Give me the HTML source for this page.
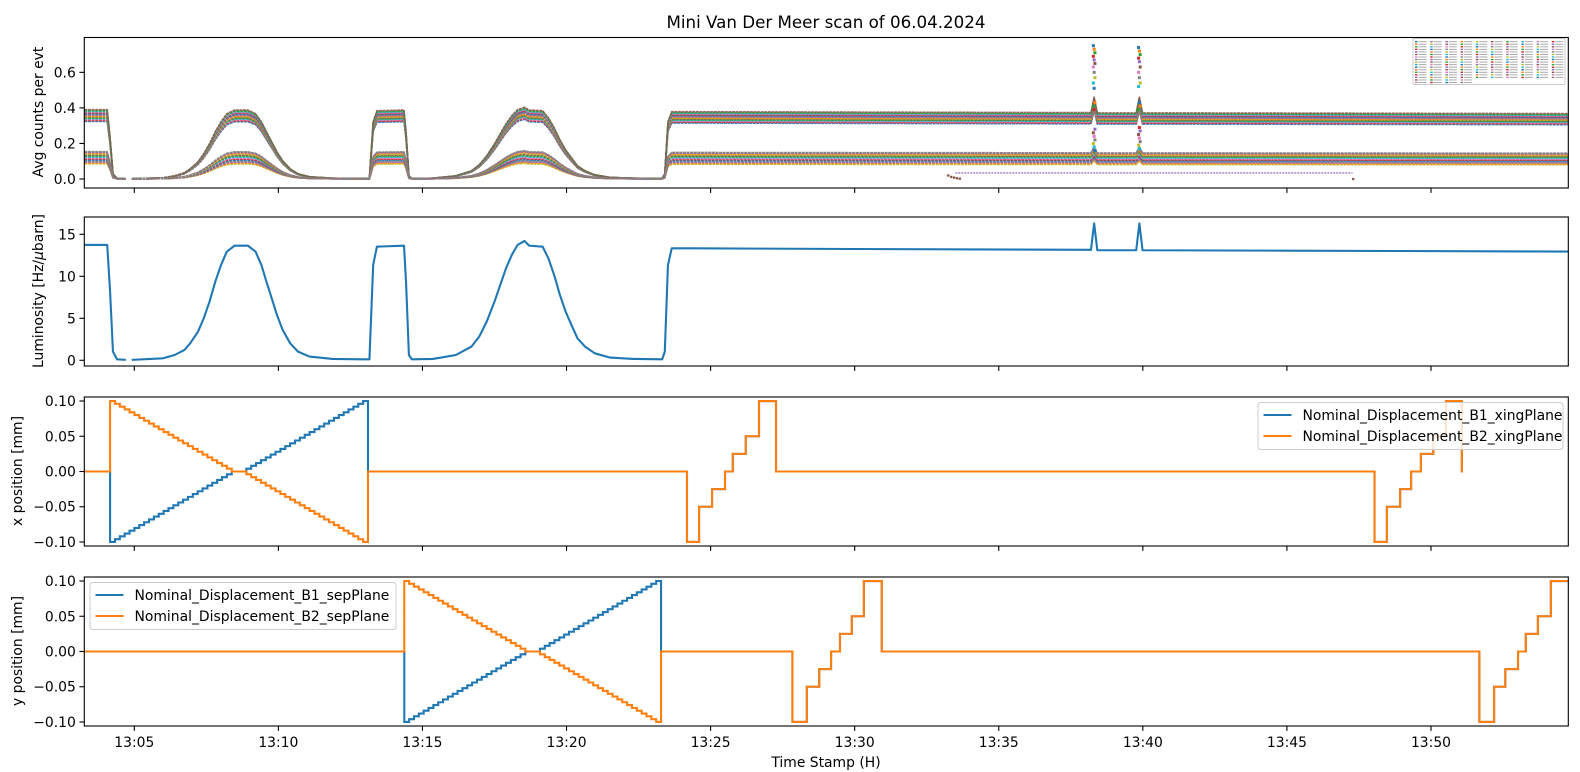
<!DOCTYPE html>
<html><head><meta charset="utf-8"><style>
html,body{margin:0;padding:0;background:#fff}
svg{display:block;font-family:"DejaVu Sans","Liberation Sans",sans-serif}
</style></head><body>
<svg id="fig" xmlns="http://www.w3.org/2000/svg" width="1580" height="772" viewBox="0 0 1580 772">
<rect width="1580" height="772" fill="#fff"/>
<text x="826" y="28" font-size="16.7" text-anchor="middle">Mini Van Der Meer scan of 06.04.2024</text>
<g id="layer"></g>
<text x="826" y="767" font-size="13.9" text-anchor="middle">Time Stamp (H)</text>
<text transform="translate(43,112) rotate(-90)" font-size="13.9" text-anchor="middle">Avg counts per evt</text>
<text transform="translate(43,291) rotate(-90)" font-size="13.9" text-anchor="middle">Luminosity [Hz/<tspan font-style="italic">μ</tspan>barn]</text>
<text transform="translate(22,471) rotate(-90)" font-size="13.9" text-anchor="middle">x position [mm]</text>
<text transform="translate(22,651) rotate(-90)" font-size="13.9" text-anchor="middle">y position [mm]</text>
</svg>
<script>
// ---- data ----
const xTickLabels = ["13:05","13:10","13:15","13:20","13:25","13:30","13:35","13:40","13:45","13:50"];
const xTickMinutes = [5,10,15,20,25,30,35,40,45,50];
const lumT = [3.27,4.06,4.16,4.26,4.40,4.71,4.80,4.91,6.00,6.40,6.74,6.94,7.21,7.41,7.61,7.81,8.01,8.21,8.48,8.94,9.21,9.41,9.55,9.75,9.95,10.15,10.41,10.68,11.08,11.88,12.89,13.16,13.29,13.42,14.36,14.43,14.53,14.63,15.36,16.16,16.70,16.97,17.23,17.50,17.70,17.90,18.10,18.30,18.54,18.70,19.17,19.37,19.57,19.77,19.97,20.17,20.38,20.64,20.98,21.51,22.31,23.32,23.41,23.52,23.65,24.29,30.0,38.2,38.31,38.42,39.77,39.88,39.99,45.0,54.76];
const lumV = [13.73,13.73,8.17,1.03,0.12,0.05,null,0.05,0.24,0.63,1.23,2.02,3.41,5.00,6.98,9.36,11.35,12.93,13.65,13.65,12.93,11.35,9.76,7.58,5.40,3.61,2.02,1.03,0.44,0.16,0.12,0.12,11.35,13.53,13.65,9.36,0.63,0.12,0.16,0.63,1.63,2.82,4.60,6.98,8.97,10.95,12.54,13.73,14.21,13.65,13.53,12.14,10.16,7.78,5.79,4.21,2.62,1.63,0.83,0.32,0.16,0.12,1.03,11.35,13.33,13.33,13.25,13.15,16.3,13.1,13.1,16.3,13.1,13.05,12.95];
const upperFactors = [0.0236,0.0240,0.0244,0.0247,0.0250,0.0253,0.0256,0.0259,0.0262,0.0265,0.0268,0.0271,0.0274,0.0277,0.0280,0.0284];
const lowerFactors = [0.0062,0.0066,0.0070,0.0074,0.0078,0.0082,0.0086,0.0090,0.0094,0.0098,0.0102,0.0106,0.0109,0.0112];
const purpleT = [33.49,47.28];
const purpleV = [0.034,0.034];
const dipT = [33.25,33.35,33.45,33.55,33.65,47.3];
const dipV = [0.02,0.012,0.008,0.004,0.002,0.0];
const spikeT = [38.31,39.88];
const spikeHigh = [[0.75,0.73,0.71,0.69,0.67,0.65,0.63,0.60,0.57,0.54,0.51],[0.74,0.72,0.70,0.68,0.66,0.63,0.60,0.57,0.54,0.52]];
const spikeMid = [[0.43,0.41,0.39,0.28,0.26,0.24,0.22,0.20,0.18,0.16],[0.43,0.41,0.39,0.29,0.27,0.25,0.23,0.21,0.19,0.17]];
// x-plane
const xBigStart = 4.16, xBigEnd = 13.11;
const bigB1X = [-0.100,-0.096,-0.092,-0.088,-0.084,-0.080,-0.076,-0.072,-0.068,-0.064,-0.060,-0.056,-0.052,-0.048,-0.044,-0.040,-0.036,-0.032,-0.028,-0.024,-0.020,-0.016,-0.012,-0.008,-0.004,0,0,0,0.004,0.008,0.012,0.016,0.020,0.024,0.028,0.032,0.036,0.040,0.044,0.048,0.052,0.056,0.060,0.064,0.068,0.072,0.076,0.080,0.084,0.088,0.092,0.096,0.100];
const bigB2X = [0.100,0.096,0.092,0.088,0.084,0.080,0.076,0.072,0.068,0.064,0.060,0.056,0.052,0.048,0.044,0.040,0.036,0.032,0.028,0.024,0.020,0.016,0.012,0.008,0.004,0,0,0,-0.004,-0.008,-0.012,-0.016,-0.020,-0.024,-0.028,-0.032,-0.036,-0.040,-0.044,-0.048,-0.052,-0.056,-0.060,-0.064,-0.068,-0.072,-0.076,-0.080,-0.084,-0.088,-0.092,-0.096,-0.100];
const smallLevels = [-0.1,-0.05,-0.025,0,0.025,0.05,0.1];
const smallX1Edges = [24.18,24.60,25.05,25.50,25.77,26.22,26.68,27.27];
const smallX2Edges = [48.04,48.47,48.93,49.31,49.65,50.08,50.52,51.07];
const xDataEnd = 51.1;
// y-plane
const yBigStart = 14.37, yBigEnd = 23.28;
const bigB1Y = bigB1X.slice();
const bigB2Y = bigB2X.slice();
const smallY1Edges = [27.84,28.34,28.77,29.18,29.49,29.90,30.32,30.94];
const smallY2Edges = [51.68,52.19,52.58,53.02,53.29,53.71,54.16,54.765];

// ---- scales ----
const tMin = 3.265, tMax = 54.765, L = 84.3, R = 1568.3;
const X = t => L + (t - tMin) * (R - L) / (tMax - tMin);
const panels = [
  {name:'counts', top:37.5, bot:188, ymin:-0.0506, ymax:0.796, ticks:[0,0.2,0.4,0.6], fmt:v=>v.toFixed(1)},
  {name:'luminosity', top:217, bot:366, ymin:-0.68, ymax:17.06, ticks:[0,5,10,15], fmt:v=>String(v)},
  {name:'x-position', top:397, bot:546, ymin:-0.1057, ymax:0.1057, ticks:[-0.1,-0.05,0,0.05,0.1], fmt:v=>(v<0?'\u2212':'')+Math.abs(v).toFixed(2)},
  {name:'y-position', top:577, bot:726, ymin:-0.1057, ymax:0.1057, ticks:[-0.1,-0.05,0,0.05,0.1], fmt:v=>(v<0?'\u2212':'')+Math.abs(v).toFixed(2)}
];
panels.forEach(p => p.Y = v => p.bot - (v - p.ymin) * (p.bot - p.top) / (p.ymax - p.ymin));

const NS = 'http://www.w3.org/2000/svg';
const layer = document.getElementById('layer');
function mk(tag, attrs, parent) {
  const e = document.createElementNS(NS, tag);
  for (const k in attrs) e.setAttribute(k, attrs[k]);
  (parent || layer).appendChild(e);
  return e;
}
const tab = ['#1f77b4','#ff7f0e','#2ca02c','#d62728','#9467bd','#8c564b','#e377c2','#7f7f7f','#bcbd22','#17becf'];

function linePath(ts, vs, Y, f) {
  let d = '', pen = false;
  for (let i = 0; i < ts.length; i++) {
    if (vs[i] === null) { pen = false; continue; }
    d += (pen ? 'L' : 'M') + X(ts[i]).toFixed(2) + ' ' + Y(vs[i] * f).toFixed(2);
    pen = true;
  }
  return d;
}

panels.forEach((p, pi) => {
  const g = mk('g', {});
  
  
  const clip = mk('clipPath', {id: 'clip' + pi}, g);
  mk('rect', {x: L, y: p.top, width: R - L, height: p.bot - p.top}, clip);
  p.g = g;
  p.plot = mk('g', {'clip-path': 'url(#clip' + pi + ')'}, g);
  // y ticks
  p.ticks.forEach(v => {
    const y = p.Y(v);
    const tk = mk('line', {x1: L - 4.9, x2: L, y1: y, y2: y, stroke: '#000', 'stroke-width': 1.1}, g);
    
    
    const tl = mk('text', {x: L - 8.5, y: y + 5, 'font-size': 13.9, 'text-anchor': 'end'}, g);
    
    
    tl.textContent = p.fmt(v);
  });
  // x ticks
  xTickMinutes.forEach((m, i) => {
    const x = X(m);
    const tk = mk('line', {x1: x, x2: x, y1: p.bot, y2: p.bot + 4.9, stroke: '#000', 'stroke-width': 1.1}, g);
    
    
    if (pi === 3) {
      const tl = mk('text', {x: x, y: p.bot + 21, 'font-size': 13.9, 'text-anchor': 'middle'}, g);
      
      
      tl.textContent = xTickLabels[i];
    }
  });
});

// ---- panel 1: channel counts ----
const p1 = panels[0];
const allF = upperFactors.concat(lowerFactors);
allF.forEach((f, i) => {
  const pl = mk('path', {d: linePath(lumT, lumV, p1.Y, f), fill: 'none', stroke: tab[(i * 3) % 10], 'stroke-width': 1.6, 'stroke-dasharray': '3 0.6', opacity: 0.9}, p1.plot);
  
  
});
const pu = mk('path', {d: linePath(purpleT, purpleV, p1.Y, 1), fill: 'none', stroke: '#9467bd', 'stroke-width': 1.6, 'stroke-dasharray': '2 1', opacity: 0.75}, p1.plot);


dipT.forEach((t, i) => {
  const c = mk('circle', {cx: X(t), cy: p1.Y(dipV[i]), r: 1.3, fill: '#8c564b'}, p1.plot);
  
  
});
spikeT.forEach((t, si) => {
  spikeHigh[si].concat(spikeMid[si]).forEach((v, j) => {
    const c = mk('rect', {x: X(t) - 1.5 + (j % 3 - 1) * 0.8, y: p1.Y(v) - 1.5, width: 3, height: 3, fill: tab[j % 10]}, p1.plot);
    
    
  });
});
// legend panel 1 (tiny)
const lg1 = mk('g', {}, p1.g);


mk('rect', {x: 1413, y: 38.5, width: 152, height: 46, rx: 1.5, fill: '#fff', 'fill-opacity': 0.85, stroke: '#ccc', 'stroke-width': 1}, lg1);
const rowsPerCol = [17,17,17,17,15,15,15,15,15,15];
rowsPerCol.forEach((n, c) => {
  for (let r = 0; r < n; r++) {
    const x = 1415 + c * 15.2, y = 41 + r * 2.55;
    mk('rect', {x: x, y: y, width: 2.5, height: 1.4, fill: tab[(c * 7 + r) % 10]}, lg1);
    mk('rect', {x: x + 3.5, y: y + 0.2, width: 8, height: 1, fill: '#aaa'}, lg1);
  }
});

// ---- panel 2: luminosity ----
const p2 = panels[1];
const lumLine = mk('path', {d: linePath(lumT, lumV, p2.Y, 1), fill: 'none', stroke: '#1f77b4', 'stroke-width': 2.1, 'stroke-linejoin': 'round'}, p2.plot);



// ---- step helpers ----
function bigEvents(start, end, levels) {
  const d = (end - start) / levels.length;
  return levels.map((v, i) => [start + i * d, v]).concat([[end, 0]]);
}
function smallEvents(edges) {
  return smallLevels.map((v, i) => [edges[i], v]).concat([[edges[edges.length - 1], 0]]);
}
function stepPath(events, endT, Y) {
  let d = 'M' + X(tMin).toFixed(2) + ' ' + Y(0).toFixed(2);
  events.forEach(([t, v]) => { d += 'H' + X(t).toFixed(2) + 'V' + Y(v).toFixed(2); });
  d += 'H' + X(endT).toFixed(2);
  return d;
}
const p3 = panels[2], p4 = panels[3];
const evX1 = [[tMin,0]].concat(bigEvents(xBigStart, xBigEnd, bigB1X), smallEvents(smallX1Edges), smallEvents(smallX2Edges));
const evX2 = [[tMin,0]].concat(bigEvents(xBigStart, xBigEnd, bigB2X), smallEvents(smallX1Edges), smallEvents(smallX2Edges));
const evY1 = [[tMin,0]].concat(bigEvents(yBigStart, yBigEnd, bigB1Y), smallEvents(smallY1Edges), smallLevels.map((v, i) => [smallY2Edges[i], v]));
const evY2 = [[tMin,0]].concat(bigEvents(yBigStart, yBigEnd, bigB2Y), smallEvents(smallY1Edges), smallLevels.map((v, i) => [smallY2Edges[i], v]));
const s1 = mk('path', {d: stepPath(evX1, xDataEnd, p3.Y), fill: 'none', stroke: '#1f77b4', 'stroke-width': 2.1}, p3.plot);


const s2 = mk('path', {d: stepPath(evX2, xDataEnd, p3.Y), fill: 'none', stroke: '#ff7f0e', 'stroke-width': 2.1}, p3.plot);


const s3 = mk('path', {d: stepPath(evY1, tMax, p4.Y), fill: 'none', stroke: '#1f77b4', 'stroke-width': 2.1}, p4.plot);


const s4 = mk('path', {d: stepPath(evY2, tMax, p4.Y), fill: 'none', stroke: '#ff7f0e', 'stroke-width': 2.1}, p4.plot);



// legends
function legend(p, x, y, w, labels, nm) {
  const g = mk('g', {}, p.g);
  
  
  mk('rect', {x: x, y: y, width: w, height: 47, rx: 3, fill: '#fff', 'fill-opacity': 0.8, stroke: '#ccc', 'stroke-width': 1}, g);
  labels.forEach((lab, i) => {
    const yy = y + 12.5 + i * 21;
    const ln = mk('line', {x1: x + 5.5, x2: x + 33.5, y1: yy, y2: yy, stroke: i ? '#ff7f0e' : '#1f77b4', 'stroke-width': 2.1}, g);
    
    
    const t = mk('text', {x: x + 44.5, y: yy + 5, 'font-size': 13.9}, g);
    
    
    t.textContent = lab;
  });
}
legend(p3, 1258, 402.5, 305, ['Nominal_Displacement_B1_xingPlane', 'Nominal_Displacement_B2_xingPlane'], 'x-legend');
legend(p4, 90, 582.5, 306, ['Nominal_Displacement_B1_sepPlane', 'Nominal_Displacement_B2_sepPlane'], 'y-legend');

// frames on top
panels.forEach(p => {
  const fr = mk('rect', {x: L, y: p.top, width: R - L, height: p.bot - p.top, fill: 'none', stroke: '#000', 'stroke-width': 1.1}, p.g);
  
  
});
</script>
</body></html>
